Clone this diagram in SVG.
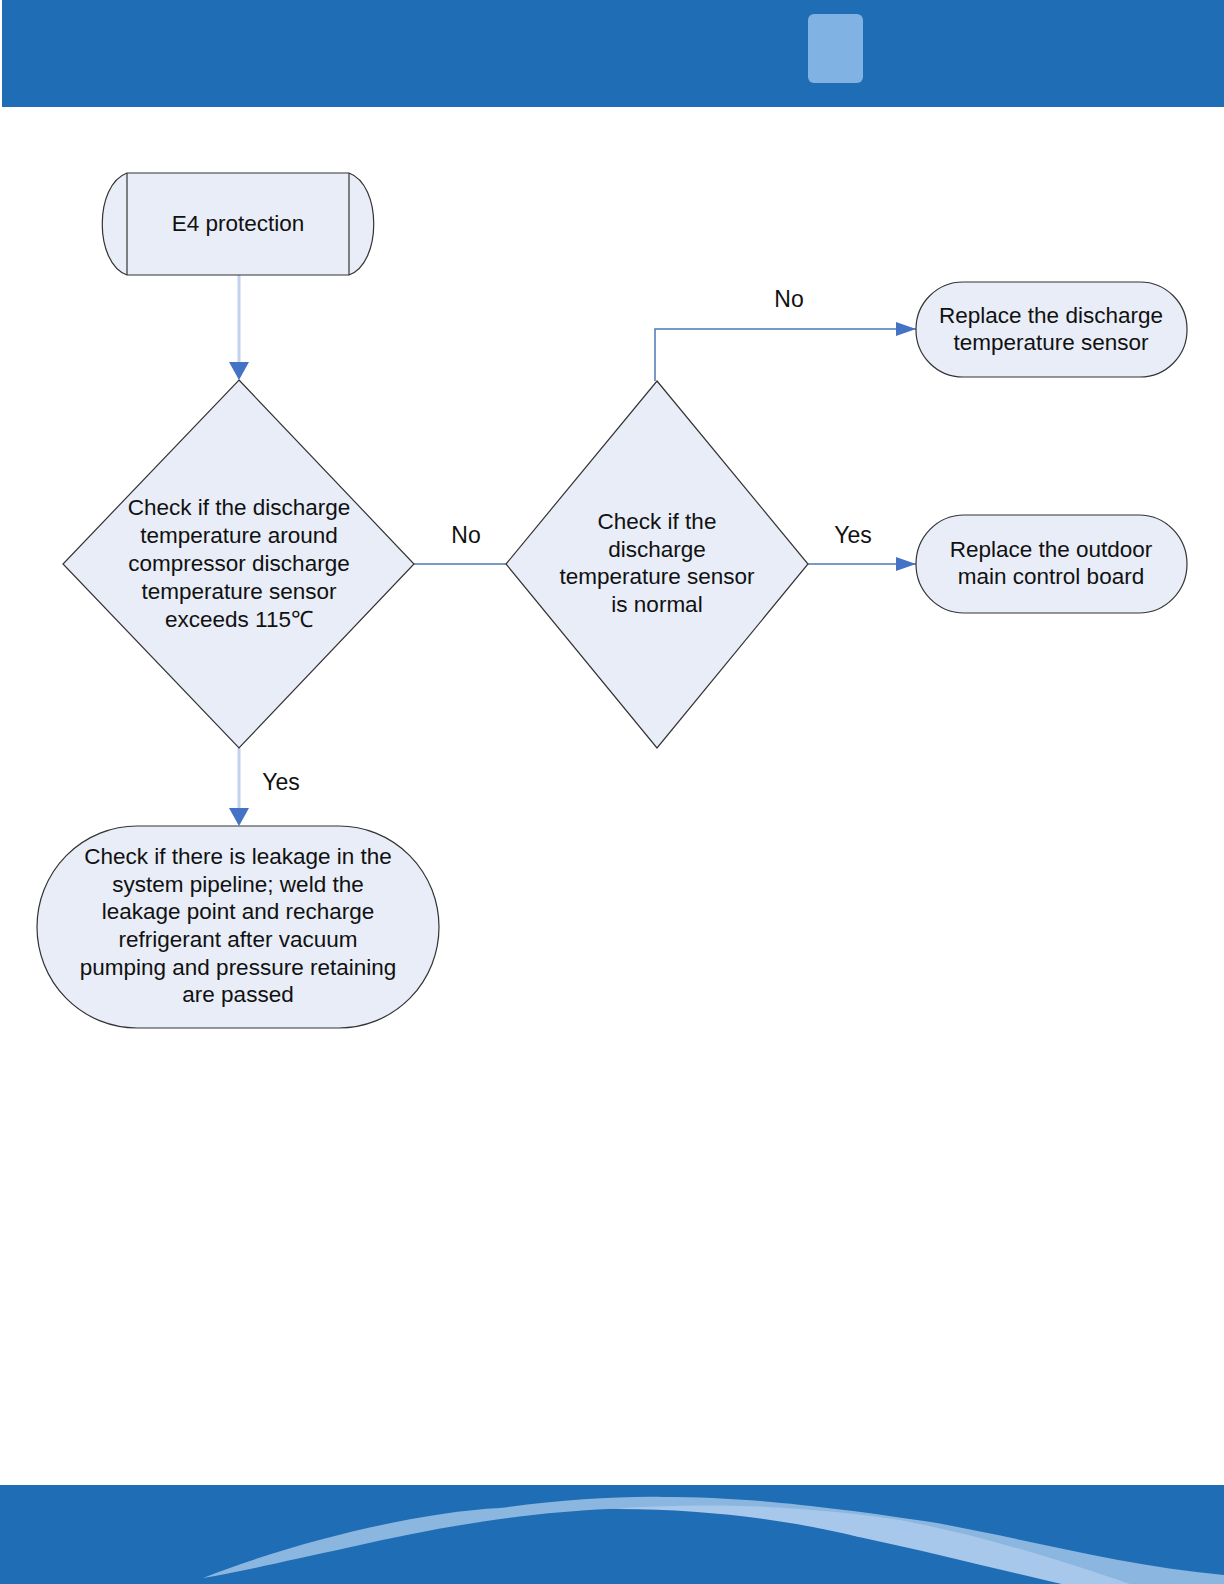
<svg xmlns="http://www.w3.org/2000/svg" width="1224" height="1584" viewBox="0 0 1224 1584">
<defs>
<style>
.node{fill:#e8edf7;stroke:#333;stroke-width:1.2}
.t{font-family:"Liberation Sans",Arial,sans-serif;font-size:22.5px;fill:#111;text-anchor:middle}
.lbl{font-family:"Liberation Sans",Arial,sans-serif;font-size:23px;fill:#111;text-anchor:middle}
.soft{fill:none;stroke:#c3d1ea;stroke-width:3}
.dark{fill:none;stroke:#4a7ab0;stroke-width:1.5}
</style>
<marker id="ah" viewBox="0 0 20 14" refX="20" refY="7" markerWidth="20" markerHeight="14" markerUnits="userSpaceOnUse" orient="auto">
<path d="M0,0 L20,7 L0,14 Z" fill="#4472c4"/>
</marker>
</defs>
<rect width="1224" height="1584" fill="#ffffff"/>
<g id="header">
<rect x="2" y="0" width="1222" height="107" fill="#1f6db5"/>
<rect x="808" y="14" width="55" height="69" rx="6" fill="#80b3e4"/>
</g>
<g id="footer">
<rect x="0" y="1485" width="1224" height="99" fill="#1f6db5"/>
<path d="M203,1578 C300,1540 420,1512 500,1508 C560,1500 620,1496 664,1497 C740,1497 820,1505 937,1523 C1030,1540 1120,1565 1224,1575 L1224,1584 L1062,1584 C1000,1560 900,1530 859,1537 C800,1520 700,1505 609,1509 C540,1512 460,1522 351,1547 C290,1560 240,1572 203,1578 Z" fill="#8ab6df"/>
<path d="M859,1537 C930,1552 1000,1570 1062,1584 L1130,1584 C1060,1560 980,1535 900,1520 C800,1505 700,1502 609,1509 C700,1508 790,1520 859,1537 Z" fill="#a7c8ea"/>
</g>
<g id="connectors">
<line class="soft" x1="239" y1="275" x2="239" y2="362"/>
<path d="M229,362 L249,362 L239,380 Z" fill="#4472c4"/>
<line class="soft" x1="239" y1="748" x2="239" y2="808"/>
<path d="M229,808 L249,808 L239,826 Z" fill="#4472c4"/>
<line class="dark" x1="414" y1="564" x2="506" y2="564"/>
<polyline class="dark" points="655,381 655,329 916,329" marker-end="url(#ah)"/>
<line class="dark" x1="808" y1="564" x2="916" y2="564" marker-end="url(#ah)"/>
<text class="lbl" x="466" y="543">No</text>
<text class="lbl" x="789" y="307">No</text>
<text class="lbl" x="853" y="543">Yes</text>
<text class="lbl" x="281" y="790">Yes</text>
</g>
<g id="n-start">
<path class="node" d="M127,173 L349,173 C382,185 382,263 349,275 L127,275 C94,263 94,185 127,173 Z"/>
<line x1="127" y1="173" x2="127" y2="275" stroke="#333" stroke-width="1.2"/>
<line x1="349" y1="173" x2="349" y2="275" stroke="#333" stroke-width="1.2"/>
<text class="t" x="238" y="231">E4 protection</text>
</g>
<g id="n-check1">
<polygon class="node" points="239,380 414,564 239,748 63,564"/>
<text class="t" x="239" y="515">Check if the discharge</text>
<text class="t" x="239" y="543">temperature around</text>
<text class="t" x="239" y="571">compressor discharge</text>
<text class="t" x="239" y="599">temperature sensor</text>
<text class="t" x="239" y="627">exceeds 115℃</text>
</g>
<g id="n-check2">
<polygon class="node" points="657,381 808,564 657,748 506,564"/>
<text class="t" x="657" y="529">Check if the</text>
<text class="t" x="657" y="557">discharge</text>
<text class="t" x="657" y="584">temperature sensor</text>
<text class="t" x="657" y="612">is normal</text>
</g>
<g id="n-sensor">
<rect class="node" x="916" y="282" width="271" height="95" rx="47" ry="47"/>
<text class="t" x="1051" y="323">Replace the discharge</text>
<text class="t" x="1051" y="350">temperature sensor</text>
</g>
<g id="n-board">
<rect class="node" x="916" y="515" width="271" height="98" rx="48" ry="49"/>
<text class="t" x="1051" y="557">Replace the outdoor</text>
<text class="t" x="1051" y="584">main control board</text>
</g>
<g id="n-leak">
<rect class="node" x="37" y="826" width="402" height="202" rx="100" ry="101"/>
<text class="t" x="238" y="864">Check if there is leakage in the</text>
<text class="t" x="238" y="892">system pipeline; weld the</text>
<text class="t" x="238" y="919">leakage point and recharge</text>
<text class="t" x="238" y="947">refrigerant after vacuum</text>
<text class="t" x="238" y="975">pumping and pressure retaining</text>
<text class="t" x="238" y="1002">are passed</text>
</g>
</svg>
